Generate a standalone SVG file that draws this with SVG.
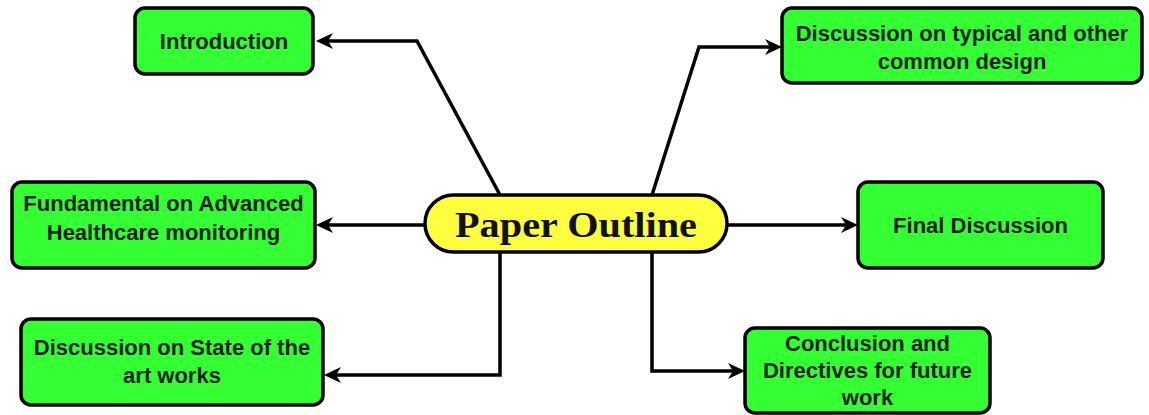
<svg xmlns="http://www.w3.org/2000/svg" width="1149" height="415" viewBox="0 0 1149 415">
  <style>
    .box { fill: #33ff33; stroke: #000; stroke-width: 3.5; }
    .hub { fill: #ffff40; stroke: #000; stroke-width: 3.5; }
    .lbl { font-family: "Liberation Sans", Arial, sans-serif; font-weight: bold; font-size: 22px; fill: #0f1f0f; text-anchor: middle; }
    .title { font-family: "Liberation Serif", "Times New Roman", serif; font-weight: bold; font-size: 35px; fill: #111; text-anchor: middle; }
    .link { fill: none; stroke: #000; stroke-width: 3.5; stroke-linejoin: miter; marker-end: url(#arrow); }
  </style>
  <defs>
    <marker id="arrow" markerUnits="userSpaceOnUse" markerWidth="18" markerHeight="16" refX="9" refY="8" orient="auto" viewBox="0 0 18 16">
      <path d="M0,0 L17,8 L0,16 L5,8 Z" fill="#000"/>
    </marker>
  </defs>
  <rect width="1149" height="415" fill="#fff"/>

  <!-- connectors from the hub to each section -->
  <g id="connectors">
    <path class="link" d="M500,195 L417,41 L324,41"/>
    <path class="link" d="M652,195 L699,47 L774,47"/>
    <path class="link" d="M425,225 L324,225"/>
    <path class="link" d="M727,225 L850,225"/>
    <path class="link" d="M500,252 L500,375 L332,375"/>
    <path class="link" d="M652,252 L652,371 L737,371"/>
  </g>

  <g id="hub">
    <rect class="hub" x="425" y="195" width="302" height="57" rx="28.5"/>
    <text class="title" x="576" y="237" textLength="242" lengthAdjust="spacingAndGlyphs">Paper Outline</text>
  </g>

  <g id="introduction">
    <rect class="box" x="135" y="8" width="178" height="66" rx="10"/>
    <text class="lbl" x="224" y="49">Introduction</text>
  </g>

  <g id="typical-design">
    <rect class="box" x="782" y="8" width="360" height="75" rx="10"/>
    <text class="lbl" x="962" y="41">Discussion on typical and other</text>
    <text class="lbl" x="962" y="69">common design</text>
  </g>

  <g id="fundamental">
    <rect class="box" x="12" y="182" width="303" height="86" rx="10"/>
    <text class="lbl" x="163.5" y="211">Fundamental on Advanced</text>
    <text class="lbl" x="163.5" y="240">Healthcare monitoring</text>
  </g>

  <g id="final-discussion">
    <rect class="box" x="858" y="182" width="245" height="86" rx="10"/>
    <text class="lbl" x="980.5" y="233">Final Discussion</text>
  </g>

  <g id="state-of-art">
    <rect class="box" x="21" y="319" width="302" height="86" rx="10"/>
    <text class="lbl" x="172" y="355">Discussion on State of the</text>
    <text class="lbl" x="172" y="383">art works</text>
  </g>

  <g id="conclusion">
    <rect class="box" x="745" y="328" width="245" height="85" rx="10"/>
    <text class="lbl" x="867.5" y="351">Conclusion and</text>
    <text class="lbl" x="867.5" y="378">Directives for future</text>
    <text class="lbl" x="867.5" y="405">work</text>
  </g>
</svg>
